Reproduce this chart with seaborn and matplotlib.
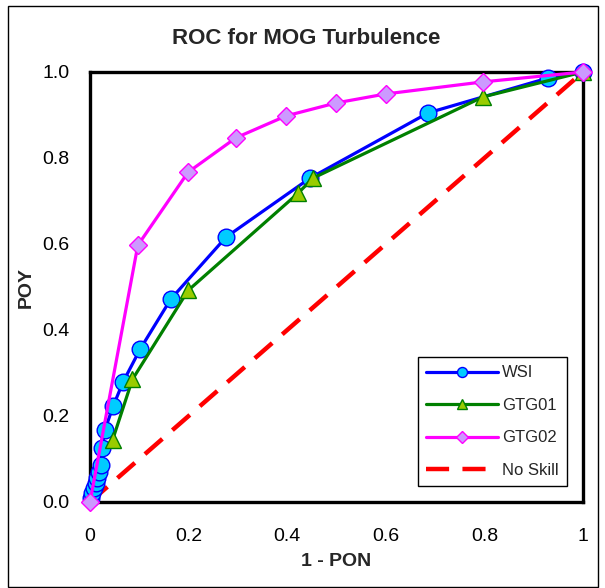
import matplotlib
matplotlib.use("Agg")
import matplotlib.pyplot as plt
import seaborn as sns
import pandas as pd
from matplotlib.patches import Rectangle

# ---- data ----
wsi_x = [0.002, 0.004, 0.008, 0.012, 0.015, 0.018, 0.022, 0.024, 0.030, 0.047,
         0.067, 0.102, 0.164, 0.276, 0.446, 0.686, 0.929, 1.0]
wsi_y = [0.010, 0.021, 0.033, 0.044, 0.056, 0.070, 0.086, 0.126, 0.167, 0.223,
         0.279, 0.356, 0.472, 0.616, 0.753, 0.905, 0.986, 1.0]
gtg01_x = [0.046, 0.086, 0.199, 0.422, 0.452, 0.797, 1.0]
gtg01_y = [0.145, 0.285, 0.492, 0.718, 0.753, 0.942, 1.0]
gtg02_x = [0.0, 0.097, 0.199, 0.296, 0.398, 0.499, 0.600, 0.797, 1.0]
gtg02_y = [0.0, 0.597, 0.767, 0.847, 0.898, 0.928, 0.949, 0.977, 1.0]
noskill_x = [0.0, 1.0]
noskill_y = [0.0, 1.0]
x_ticks = [0, 0.2, 0.4, 0.6, 0.8, 1.0]
x_ticklabels = ["0", "0.2", "0.4", "0.6", "0.8", "1"]
y_ticks = [0.0, 0.2, 0.4, 0.6, 0.8, 1.0]
y_ticklabels = ["0.0", "0.2", "0.4", "0.6", "0.8", "1.0"]

sns.set_style("white")
plt.rcParams["font.family"] = ["Liberation Sans", "DejaVu Sans"]

W, H = 605, 588
fig = plt.figure(figsize=(W / 100, H / 100), dpi=100)
L, R, T, B = 90, 583, 72, 502
ax = fig.add_axes([L / W, 1 - B / H, (R - L) / W, (B - T) / H])

# outer chart border
fig.patches.append(Rectangle((8 / W, 1 - 587 / H), 590 / W, 581 / H,
                             transform=fig.transFigure, fill=False,
                             edgecolor="black", linewidth=1))

sns.lineplot(x=noskill_x, y=noskill_y, ax=ax, color="#FF0000", linewidth=3.2,
             linestyle=(0, (5.2, 3.0)), estimator=None, sort=False,
             label="No Skill", clip_on=False, zorder=2)
sns.lineplot(x=wsi_x, y=wsi_y, ax=ax, color="#0000FF", linewidth=2.3,
             marker="o", markersize=12, markerfacecolor="#00CCFF",
             markeredgecolor="#0000FF", markeredgewidth=1.0,
             estimator=None, sort=False, label="WSI", clip_on=False, zorder=3)
sns.lineplot(x=gtg01_x, y=gtg01_y, ax=ax, color="#008000", linewidth=2.3,
             marker="^", markersize=12, markerfacecolor="#99CC00",
             markeredgecolor="#008000", markeredgewidth=1.0,
             estimator=None, sort=False, label="GTG01", clip_on=False, zorder=4)
sns.lineplot(x=gtg02_x, y=gtg02_y, ax=ax, color="#FF00FF", linewidth=2.3,
             marker="D", markersize=9.5, markerfacecolor="#CC99FF",
             markeredgecolor="#FF00FF", markeredgewidth=1.0,
             estimator=None, sort=False, label="GTG02", clip_on=False, zorder=5)

ax.set_xlim(0, 1)
ax.set_ylim(0, 1)
ax.set_xticks(x_ticks)
ax.set_xticklabels(x_ticklabels)
ax.set_yticks(y_ticks)
ax.set_yticklabels(y_ticklabels)
ax.tick_params(axis="both", direction="out", length=4.5, width=1,
               labelsize=14, colors="black", pad=10)
ax.tick_params(axis="x", pad=14)
for s in ax.spines.values():
    s.set_visible(True)
    s.set_linewidth(2.4)
    s.set_color("black")

ax.set_xlabel("1 - PON", fontsize=14, fontweight="bold", labelpad=6)
ax.set_ylabel("POY", fontsize=14, fontweight="bold", labelpad=6)
fig.text(306 / W, 1 - 38 / H, "ROC for MOG Turbulence", fontsize=16,
         fontweight="bold", ha="center", va="center")

handles, labels = ax.get_legend_handles_labels()
order = ["WSI", "GTG01", "GTG02", "No Skill"]
hmap = dict(zip(labels, handles))
leg = ax.legend([hmap[k] for k in order], order, loc="upper left",
                bbox_to_anchor=(418 / W, 1 - 357 / H),
                bbox_transform=fig.transFigure, fontsize=12,
                frameon=True, fancybox=False, framealpha=1,
                edgecolor="black", handlelength=4.3, markerscale=0.6,
                labelspacing=1.05, borderpad=0.5, borderaxespad=0,
                handletextpad=0.25)
leg.get_frame().set_linewidth(1)

fig.savefig("out.png", dpi=100)
